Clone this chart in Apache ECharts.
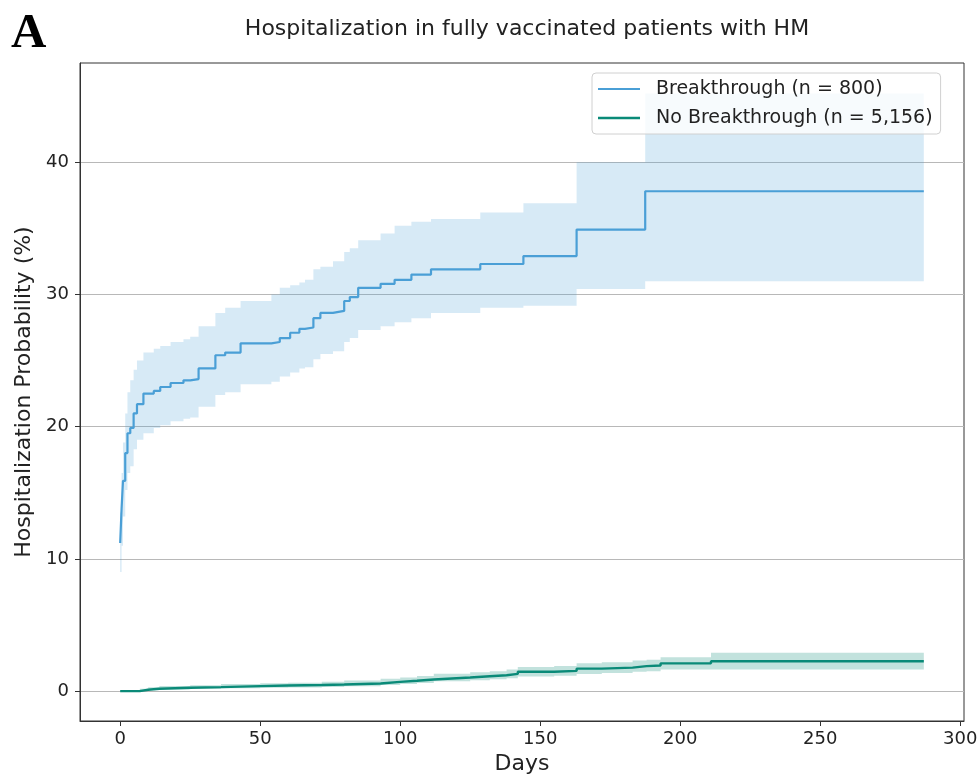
<!DOCTYPE html>
<html><head><meta charset="utf-8">
<script src="https://cdn.jsdelivr.net/npm/echarts@6/dist/echarts.min.js"></script>
<style>html,body{margin:0;padding:0;background:#fff}#c{width:980px;height:780px}</style>
</head><body><div id="c"></div>
<script>
// Breakthrough (n = 800)
const btDays  = [0, 0.5, 1, 1.8, 2.6, 3.6, 4.8, 6, 8.3, 12, 14.3, 18, 22.6, 25, 28, 34, 37.5, 43, 54, 57, 60.7, 64, 66, 69, 71.5, 76, 80, 82, 85, 93, 98, 104, 111, 128.6, 144, 163, 187.5, 287];
const btProb  = [11.2, 13.8, 15.9, 18.0, 19.5, 19.9, 21.0, 21.7, 22.5, 22.7, 23.0, 23.3, 23.5, 23.6, 24.4, 25.4, 25.6, 26.3, 26.4, 26.7, 27.1, 27.4, 27.5, 28.2, 28.6, 28.75, 29.5, 29.8, 30.5, 30.8, 31.1, 31.5, 31.9, 32.3, 32.9, 34.9, 37.8, 37.8];
const btLower = [9.0, 11.0, 13.2, 15.2, 16.5, 17.0, 18.3, 19.0, 19.5, 19.9, 20.1, 20.4, 20.6, 20.7, 21.5, 22.4, 22.6, 23.2, 23.4, 23.8, 24.1, 24.4, 24.5, 25.1, 25.5, 25.7, 26.4, 26.7, 27.3, 27.6, 27.9, 28.2, 28.6, 29.0, 29.15, 30.4, 31.0, 31.0];
const btUpper = [13.5, 16.5, 18.8, 21.0, 22.6, 23.5, 24.3, 25.0, 25.6, 25.9, 26.1, 26.4, 26.6, 26.8, 27.6, 28.6, 29.0, 29.5, 30.0, 30.5, 30.7, 30.9, 31.1, 31.9, 32.1, 32.5, 33.2, 33.5, 34.1, 34.6, 35.2, 35.5, 35.7, 36.2, 36.9, 40.0, 45.2, 45.2];

// No Breakthrough (n = 5,156)
const nbDays  = [0, 7, 10, 14, 25, 36, 50, 60, 72, 80, 93, 100, 106, 112, 125, 132, 138, 142, 155, 163, 172, 183, 188, 193, 211, 287];
const nbProb  = [0, 0.1, 0.18, 0.25, 0.3, 0.38, 0.42, 0.46, 0.5, 0.58, 0.7, 0.78, 0.88, 1.03, 1.12, 1.2, 1.3, 1.46, 1.53, 1.7, 1.78, 1.89, 1.94, 2.1, 2.26, 2.26];
const nbLower = [0, 0.02, 0.08, 0.12, 0.16, 0.22, 0.25, 0.28, 0.31, 0.37, 0.46, 0.53, 0.61, 0.74, 0.82, 0.89, 0.97, 1.1, 1.16, 1.3, 1.37, 1.46, 1.5, 1.63, 1.64, 1.64];
const nbUpper = [0, 0.18, 0.3, 0.38, 0.44, 0.54, 0.6, 0.64, 0.7, 0.8, 0.94, 1.03, 1.15, 1.32, 1.42, 1.51, 1.63, 1.82, 1.9, 2.1, 2.19, 2.32, 2.38, 2.57, 2.9, 2.9];

const xTicks = [0, 50, 100, 150, 200, 250, 300];
const yTicks = [0, 10, 20, 30, 40];

const nameBT = 'Breakthrough (n = 800)';
const nameNB = 'No Breakthrough (n = 5,156)';
const colBT = '#4a9fd6';
const colNB = '#0a8a78';
const FONT = 'DejaVu Sans';

const zip = (xs, ys) => xs.map((x, i) => [x, ys[i]]);

// step (post) confidence band drawn as one polygon through the axis scales
function bandSeries(id, days, lo, hi, color) {
  return {
    name: id + '_band', type: 'custom', silent: true, z: 1,
    data: [[days[0], lo[0]]],
    renderItem: function (params, api) {
      const top = [], bot = [];
      for (let i = 0; i < days.length; i++) {
        const xNext = i < days.length - 1 ? days[i + 1] : days[i];
        top.push(api.coord([days[i], hi[i]]), api.coord([xNext, hi[i]]));
        bot.push(api.coord([days[i], lo[i]]), api.coord([xNext, lo[i]]));
      }
      return { type: 'polygon', silent: true,
        shape: { points: top.concat(bot.reverse()) },
        style: { fill: color, stroke: null } };
    }
  };
}

const chart = echarts.init(document.getElementById('c'), null, { renderer: 'canvas' });
chart.setOption({
  animation: false,
  backgroundColor: '#fff',
  textStyle: { fontFamily: FONT },
  title: {
    text: 'Hospitalization in fully vaccinated patients with HM',
    left: 522, textAlign: 'center', top: 13,
    textStyle: { fontFamily: FONT, fontSize: 22, fontWeight: 'normal', color: '#222' }
  },
  graphic: [{
    type: 'text', left: 11, top: 10,
    style: { text: 'A', font: 'bold 49px "Liberation Serif", "DejaVu Serif", serif', fill: '#000' }
  }],
  legend: {
    orient: 'vertical', left: 592, top: 73,
    itemWidth: 42, itemHeight: 20, itemGap: 9,
    padding: [6, 8, 6, 6],
    backgroundColor: 'rgba(255,255,255,0.8)', borderColor: '#d0d0d0', borderWidth: 1, borderRadius: 4,
    textStyle: { fontFamily: FONT, fontSize: 19, color: '#222', padding: [0, 0, 0, 11], lineHeight: 20 },
    data: [
      { name: nameBT, icon: 'path://M0 0H42V2.2H0Z', itemStyle: { color: colBT } },
      { name: nameNB, icon: 'path://M0 0H42V2.4H0Z', itemStyle: { color: colNB } }
    ]
  },
  grid: {
    left: 80, right: 16, top: 63, bottom: 59,
    show: true, borderColor: '#333', borderWidth: 1,
    containLabel: false, outerBoundsMode: 'none'
  },
  xAxis: {
    type: 'value', min: -14.35, max: 301.35,
    name: 'Days', nameLocation: 'middle', nameGap: 30,
    nameTextStyle: { fontFamily: FONT, fontSize: 22, color: '#222' },
    axisLine: { show: true, onZero: false, lineStyle: { color: '#333', width: 1 } },
    axisTick: { show: true, inside: false, length: 5, lineStyle: { color: '#333' }, customValues: xTicks },
    axisLabel: { fontFamily: FONT, fontSize: 18, color: '#222', margin: 9, customValues: xTicks },
    splitLine: { show: false }
  },
  yAxis: {
    type: 'value', min: -2.26, max: 47.5,
    name: 'Hospitalization Probability (%)', nameLocation: 'middle', nameGap: 44,
    nameTextStyle: { fontFamily: FONT, fontSize: 22, color: '#222' },
    axisLine: { show: true, onZero: false, lineStyle: { color: '#333', width: 1 } },
    axisTick: { show: true, inside: false, length: 5, lineStyle: { color: '#333' }, customValues: yTicks },
    axisLabel: { fontFamily: FONT, fontSize: 18, color: '#222', margin: 11, customValues: yTicks },
    splitLine: { show: true, lineStyle: { color: '#b8b8b8', width: 1 } }
  },
  series: [
    bandSeries('bt', btDays, btLower, btUpper, 'rgba(74,159,214,0.22)'),
    bandSeries('nb', nbDays, nbLower, nbUpper, 'rgba(10,138,120,0.25)'),
    { name: nameBT, type: 'line', step: 'end', data: zip(btDays, btProb), symbol: 'none',
      color: colBT, lineStyle: { color: colBT, width: 2.2 }, z: 3 },
    { name: nameNB, type: 'line', step: 'end', data: zip(nbDays, nbProb), symbol: 'none',
      color: colNB, lineStyle: { color: colNB, width: 2.4 }, z: 3 }
  ]
});
</script>
</body></html>
